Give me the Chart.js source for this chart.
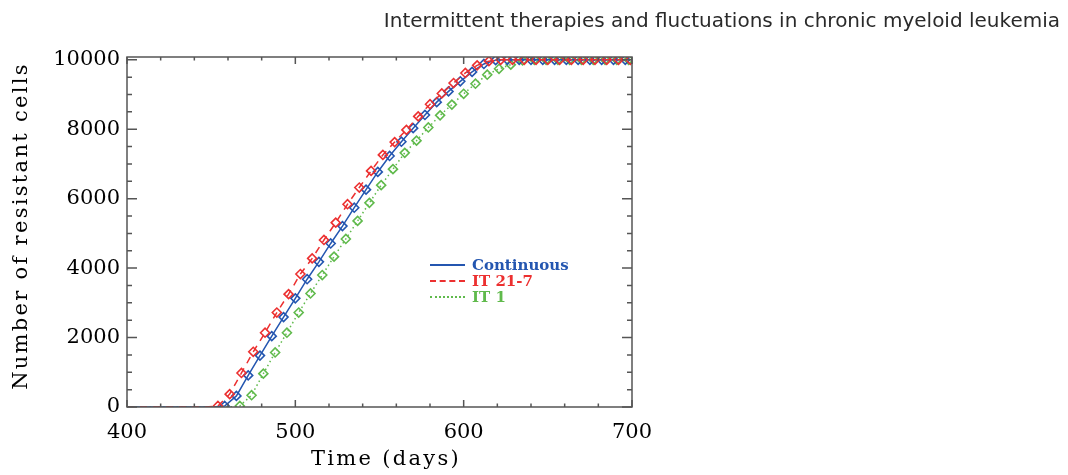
<!DOCTYPE html>
<html>
<head>
<meta charset="utf-8">
<script src="https://cdn.jsdelivr.net/npm/chart.js@4.4.1/dist/chart.umd.min.js"></script>
<style>
    body { margin: 0; background: #fff; }
    #wrap { position: relative; width: 1068px; height: 475px; }
    #header {
        position: absolute; right: 8px; top: 8px;
        font-family: "DejaVu Sans", sans-serif; font-size: 20px; color: #2a2a2a;
        white-space: nowrap;
    }
    .axis-title {
        position: absolute; font-family: "DejaVu Serif", serif; font-size: 21px;
        letter-spacing: 2.3px; color: #000; white-space: nowrap; text-align: center;
        line-height: 24px;
    }
    #xtitle { left: 236px; width: 300px; top: 446px; }
    #ytitle { left: -180px; width: 400px; top: 214px; transform: rotate(-90deg); }
    #legend { position: absolute; left: 430px; top: 257px; font-family: "DejaVu Serif", serif; font-weight: bold; font-size: 15px; }
    .row { display: flex; align-items: center; height: 16px; line-height: 16px; }
    .sample { width: 35px; margin-right: 7px; height: 0; }
</style>
</head>
<body>
<div id="wrap">
    <canvas id="chart" width="1068" height="475"></canvas>
    <div id="header">Intermittent therapies and fluctuations in chronic myeloid leukemia</div>
    <div id="xtitle" class="axis-title">Time (days)</div>
    <div id="ytitle" class="axis-title">Number of resistant cells</div>
    <div id="legend"></div>
</div>
<script>
// x ticks / y ticks
const xTicks = [400, 500, 600, 700]
const yTicks = [0, 2000, 4000, 6000, 8000, 10000]

const seriesNames = ['Continuous', 'IT 21-7', 'IT 1']

// Continuous
const contDays = [400, 451, 458, 465, 472, 479, 486, 493, 500, 507, 514, 521, 528, 535, 542, 549, 556, 563, 570, 577, 584, 591, 598, 605, 612, 619, 626, 633, 640, 647, 654, 661, 668, 675, 682, 689, 696]
const contCells = [0, 0, 30, 320, 910, 1480, 2040, 2590, 3130, 3680, 4180, 4710, 5210, 5740, 6260, 6770, 7230, 7640, 8030, 8410, 8780, 9090, 9380, 9650, 9880, 9990, 10000, 10000, 10000, 10000, 10000, 10000, 10000, 10000, 10000, 10000, 10000]

// IT 21-7
const it217Days = [400, 447, 454, 461, 468, 475, 482, 489, 496, 503, 510, 517, 524, 531, 538, 545, 552, 559, 566, 573, 580, 587, 594, 601, 608, 615, 622, 629, 636, 643, 650, 657, 664, 671, 678, 685, 692, 699]
const it217Cells = [0, 0, 30, 370, 980, 1590, 2140, 2720, 3250, 3830, 4280, 4810, 5310, 5840, 6320, 6800, 7260, 7630, 7980, 8370, 8720, 9030, 9330, 9620, 9840, 9960, 10000, 10000, 10000, 10000, 10000, 10000, 10000, 10000, 10000, 10000, 10000, 10000]

// IT 1
const it1Days = [400, 460, 467, 474, 481, 488, 495, 502, 509, 516, 523, 530, 537, 544, 551, 558, 565, 572, 579, 586, 593, 600, 607, 614, 621, 628, 635, 642, 649, 656, 663, 670, 677, 684, 691, 698]
const it1Cells = [0, 0, 30, 340, 960, 1570, 2140, 2720, 3270, 3800, 4330, 4840, 5360, 5880, 6390, 6850, 7320, 7670, 8050, 8400, 8710, 9020, 9310, 9570, 9740, 9860, 9980, 10000, 10000, 10000, 10000, 10000, 10000, 10000, 10000, 10000]

const blue = 'rgb(36, 86, 176)'
const red = 'rgb(236, 48, 48)'
const green = 'rgb(96, 186, 76)'

function toPoints(days, cells) {
    return days.map((d, i) => ({ x: d, y: cells[i] }))
}

function makeSet(label, days, cells, color, dash) {
    return {
        label: label,
        data: toPoints(days, cells),
        borderColor: color,
        backgroundColor: 'rgba(0,0,0,0)',
        borderWidth: 1.5,
        borderDash: dash,
        pointStyle: 'rectRot',
        // no markers on the flat zero part
        pointRadius: ctx => (ctx.raw && ctx.raw.y > 0 ? 4.5 : 0),
        pointBorderWidth: 1.6,
        pointBorderColor: color,
        pointBackgroundColor: 'rgba(0,0,0,0)',
        tension: 0
    }
}

// frame around the plot with inward ticks on all four sides
const frameTicks = {
    id: 'frameTicks',
    afterDatasetsDraw(chart) {
        const { ctx, chartArea: a, scales: { x, y } } = chart
        ctx.save()
        ctx.strokeStyle = '#555'
        ctx.lineWidth = 1.5
        ctx.strokeRect(a.left, a.top, a.right - a.left, a.bottom - a.top)
        ctx.beginPath()
        for (let v = 400; v <= 700; v += 20) {
            let px = x.getPixelForValue(v)
            let len = xTicks.includes(v) ? 7 : 3.5
            ctx.moveTo(px, a.bottom); ctx.lineTo(px, a.bottom - len)
            ctx.moveTo(px, a.top); ctx.lineTo(px, a.top + len)
        }
        for (let v = 0; v <= 10000; v += 500) {
            let py = y.getPixelForValue(v)
            let len = yTicks.includes(v) ? 10 : 5
            ctx.moveTo(a.left, py); ctx.lineTo(a.left + len, py)
            ctx.moveTo(a.right, py); ctx.lineTo(a.right - len, py)
        }
        ctx.stroke()
        ctx.restore()
    }
}

const serif = 'DejaVu Serif'

new Chart(document.getElementById('chart'), {
    type: 'line',
    data: {
        datasets: [
            makeSet(seriesNames[1], it217Days, it217Cells, red, [7, 6]),
            makeSet(seriesNames[0], contDays, contCells, blue, []),
            makeSet(seriesNames[2], it1Days, it1Cells, green, [1.5, 3])
        ]
    },
    options: {
        responsive: false,
        animation: false,
        layout: { padding: { top: 57, right: 436, left: 0, bottom: 0 } },
        plugins: { legend: { display: false }, tooltip: { enabled: false } },
        scales: {
            x: {
                type: 'linear',
                min: 400,
                max: 700,
                afterBuildTicks: s => { s.ticks = xTicks.map(v => ({ value: v })) },
                afterFit: s => { s.height = 68 },
                grid: { display: false, drawTicks: false },
                border: { display: false },
                ticks: { color: '#000', font: { family: serif, size: 21 }, padding: 13, maxRotation: 0, callback: v => String(v) }
            },
            y: {
                type: 'linear',
                min: 0,
                max: 10080,
                afterBuildTicks: s => { s.ticks = yTicks.map(v => ({ value: v })) },
                afterFit: s => { s.width = 127 },
                grid: { display: false, drawTicks: false },
                border: { display: false },
                ticks: { color: '#000', font: { family: serif, size: 21 }, padding: 7, callback: v => String(v) }
            }
        }
    },
    plugins: [frameTicks]
})

// legend
let legendBox = document.getElementById('legend')
let legendStyles = [
    { color: blue, line: 'solid' },
    { color: red, line: 'dashed' },
    { color: green, line: 'dotted' }
]
seriesNames.forEach((name, i) => {
    let st = legendStyles[i]
    legendBox.innerHTML += `<div class="row" style="color:${st.color}">
        <div class="sample" style="border-top: 2px ${st.line} ${st.color}"></div>${name}</div>`
})
</script>
</body>
</html>
